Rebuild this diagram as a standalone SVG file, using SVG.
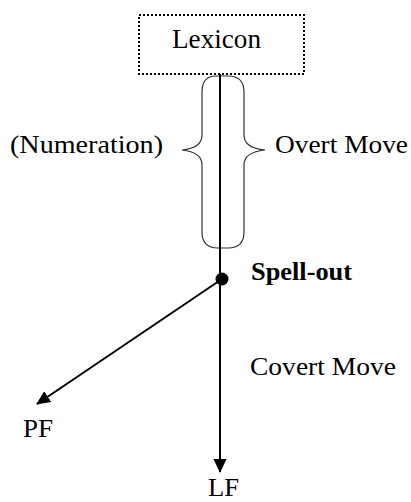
<svg xmlns="http://www.w3.org/2000/svg" width="411" height="502" viewBox="0 0 411 502">
<style>
text{font-family:"Liberation Serif","Times New Roman",serif;font-size:25px;fill:#000}
.b{font-weight:bold}
.box{fill:#fff;stroke:#000;stroke-width:2;stroke-dasharray:2 2}
.ln{fill:none;stroke:#000;stroke-width:2}
.br{fill:none;stroke:#333;stroke-width:1.2}
</style>
<defs>
<marker id="ah" viewBox="0 0 14 14" refX="13" refY="7" markerWidth="14" markerHeight="14" markerUnits="userSpaceOnUse" orient="auto">
<path d="M0,0.5 L14,7 L0,13.5 Z" fill="#000"/>
</marker>
</defs>
<g id="lexicon">
<rect class="box" x="139" y="15" width="165" height="59"/>
<text x="172" y="48" textLength="89" lengthAdjust="spacingAndGlyphs" style="font-size:27px">Lexicon</text>
</g>
<g id="connectors">
<path class="br" d="M216,76 Q202,76 202,92 L202,135 Q202,148 182,150 Q202,152 202,165 L202,232 Q202,248 218,248 L228,248 Q244,248 244,232 L244,165 Q244,152 265,150 Q244,148 244,135 L244,92 Q244,76 228,76 Z"/>
<line class="ln" x1="220" y1="74" x2="220" y2="472" marker-end="url(#ah)"/>
<line class="ln" x1="222" y1="279" x2="37" y2="404" marker-end="url(#ah)"/>
<circle cx="222" cy="279" r="6.5" fill="#000"/>
</g>
<g id="numeration"><text x="10" y="153" textLength="153" lengthAdjust="spacingAndGlyphs">(Numeration)</text></g>
<g id="overt-move"><text x="275" y="153" textLength="133" lengthAdjust="spacingAndGlyphs">Overt Move</text></g>
<g id="spell-out"><text class="b" x="251" y="280" textLength="101" lengthAdjust="spacingAndGlyphs">Spell-out</text></g>
<g id="covert-move"><text x="250" y="375" textLength="146" lengthAdjust="spacingAndGlyphs">Covert Move</text></g>
<g id="pf"><text x="23" y="437" textLength="30" lengthAdjust="spacingAndGlyphs">PF</text></g>
<g id="lf"><text x="208" y="496" textLength="31" lengthAdjust="spacingAndGlyphs">LF</text></g>
</svg>
